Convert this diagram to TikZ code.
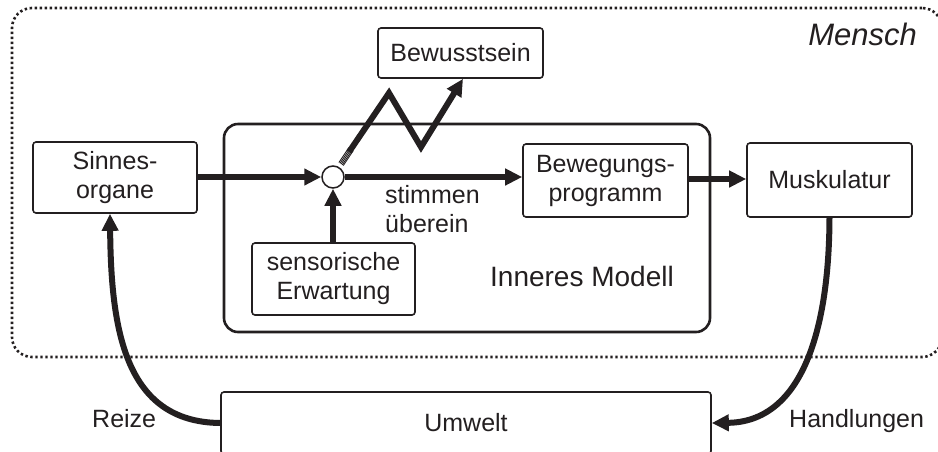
\documentclass[tikz,border=0pt]{standalone}
\usepackage{fontspec}
\setmainfont{Liberation Sans}
\usetikzlibrary{arrows.meta,calc}
\definecolor{ink}{HTML}{231F20}
\newcommand{\labelfont}{\fontsize{25}{29}\selectfont}
\begin{document}
\begin{tikzpicture}[x=1pt,y=-1pt,
  box/.style={draw=ink, line width=1.6pt, rounded corners=3pt, fill=white,
    align=center, inner sep=0pt, text=ink, font=\labelfont},
  frame/.style={draw=ink, line width=2.6pt, rounded corners=14pt, inner sep=0pt},
  region/.style={draw=ink, line width=2.6pt, rounded corners=20pt, inner sep=0pt,
    dash pattern=on 2.4pt off 2.6pt},
  flow/.style={draw=ink, line width=6pt, -{Triangle[length=17pt,width=16pt]}},
  txt/.style={text=ink, font=\labelfont, inner sep=0pt, align=left}]
\useasboundingbox (0,0) rectangle (938,451);

% outer region "Mensch" and the inner model frame
\node[region, minimum width=930pt, minimum height=349pt] (mensch) at (477,182.5) {};
\node[frame, minimum width=486pt, minimum height=208pt] (model) at (467,228) {};

% boxes
\node[box, minimum width=164pt, minimum height=71pt] (sinn) at (115,177.5) {Sinnes-\\organe};
\node[box, minimum width=165pt, minimum height=73pt] (beweg) at (605.5,180.5) {Bewegungs-\\programm};
\node[box, minimum width=165pt, minimum height=74pt] (musk) at (829.5,180) {Muskulatur};
\node[box, minimum width=163pt, minimum height=72pt] (sens) at (333.5,279) {sensorische\\Erwartung};
\node[box, minimum width=165pt, minimum height=50pt] (bew) at (460.5,53) {Bewusstsein};
\node[box, minimum width=490pt, minimum height=62pt] (umw) at (466,423) {Umwelt};

% comparison point
\node[circle, draw=ink, line width=1.5pt, fill=white, minimum size=22pt, inner sep=0pt] (cmp) at (333,177) {};

% texts
\node[txt, anchor=base east, font=\fontsize{31}{35}\selectfont\itshape] (lblmensch) at (917,45) {Mensch};
\node[txt, anchor=base west] (lblstimmen) at (385,203) {stimmen};
\node[txt, anchor=base west] (lblueberein) at (385,232) {überein};
\node[txt, font=\fontsize{28}{32}\selectfont] (lblmodell) at (582,276) {Inneres Modell};
\node[txt, anchor=base west] (lblreize) at (92,427) {Reize};
\node[txt, anchor=base west] (lblhandl) at (789,427) {Handlungen};

% main signal path
\draw[flow] (sinn.east |- cmp) -- (cmp.west);
\draw[flow] (cmp.east) -- (cmp -| beweg.west);
\draw[flow] (beweg.east |- 0,179) -- (musk.west |- 0,179);
\draw[flow] (sens.north -| cmp) -- (cmp.south);

% zig-zag to consciousness, with a frayed start
\coordinate (zs) at (349,152);
\coordinate (z1) at (389,93);
\coordinate (z2) at (421,147);
\draw[flow, line join=miter] (zs) -- (z1) -- (z2) -- ($(bew.south)+(2.5,0)$);
\foreach \o in {-2.6,-1.2,0.2,1.6,2.8}
  \draw[ink, line width=0.9pt] ($(341,164)+(0.83*\o,0.557*\o)$) -- ($(351,149)+(0.83*\o,0.557*\o)$);

% loop through the environment
\draw[flow] (musk.south) .. controls (829,335) and (800,422) .. (umw.east);
\draw[flow] (umw.west) .. controls (125,422) and (111,330) .. ($(sinn.south)+(-5,0)$);
\end{tikzpicture}
\end{document}
